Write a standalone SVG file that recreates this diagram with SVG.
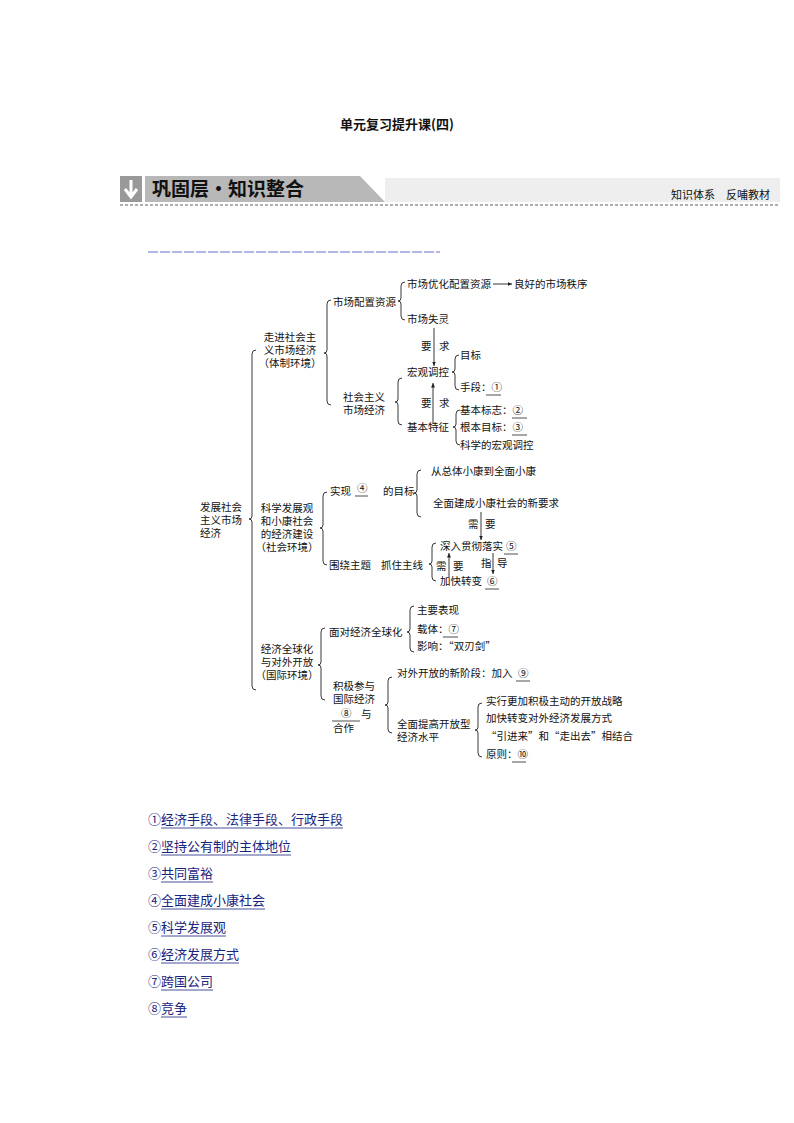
<svg xmlns="http://www.w3.org/2000/svg" width="794" height="1123" viewBox="0 0 794 1123">
<style>
text{font-family:"Noto Sans CJK SC","Liberation Serif",serif;font-size:10.5px;fill:#111}
.b{fill:none;stroke:#222;stroke-width:0.9}
.ln{stroke:#222;stroke-width:0.9;fill:none}
.u{stroke:#222;stroke-width:0.8}
.fn{font-size:13px;fill:#1a237e}
.ful{stroke:#1a237e;stroke-width:0.8}
</style>
<defs><marker id="ah" markerWidth="6" markerHeight="6" refX="5" refY="3" orient="auto"><path d="M0,0.8 L5,3 L0,5.2z" fill="#222"/></marker></defs>
<rect width="794" height="1123" fill="#fff"/>
<text x="397" y="129" text-anchor="middle" style="font-size:13px;font-weight:bold">单元复习提升课(四)</text>
<g id="header">
<rect x="385" y="178" width="395" height="24" fill="#eee"/>
<rect x="120" y="176" width="22" height="26" fill="#999"/>
<path d="M131,180 V194 M125,189 L131,197 L137,189" stroke="#fff" stroke-width="3" fill="none"/>
<path d="M145,176 H360 L385,202 H145z" fill="#b8b8b8"/>
<text x="152" y="196" style="font-size:19px;font-weight:bold;fill:#111">巩固层・知识整合</text>
<text x="770" y="199" text-anchor="end" style="font-size:11px">知识体系　反哺教材</text>
<line x1="120" y1="205" x2="778" y2="205" stroke="#333" stroke-dasharray="3,2" stroke-width="0.8"/>
<line x1="148" y1="252" x2="440" y2="252" stroke="#9aa0e0" stroke-width="1.5" stroke-dasharray="10,2"/>
</g>
<g id="connectors">
<path class="b" d="M256,350 Q252,350 252,354 L252,516 Q252,519 249,519 Q252,519 252,522 L252,686 Q252,690 256,690"/>
<path class="b" d="M331,300 Q327,300 327,304 L327,350 Q327,353 324,353 Q327,353 327,356 L327,401 Q327,405 331,405"/>
<path class="b" d="M405,282 Q401,282 401,286 L401,298 Q401,301 398,301 Q401,301 401,304 L401,316 Q401,320 405,320"/>
<line class="ln" x1="493" y1="284" x2="512" y2="284" marker-end="url(#ah)"/>
<line class="ln" x1="434" y1="328" x2="434" y2="366" marker-end="url(#ah)"/>
<path class="b" d="M459,355 Q455,355 455,359 L455,369 Q455,372 452,372 Q455,372 455,375 L455,386 Q455,390 459,390"/>
<path class="b" d="M402,378 Q398,378 398,382 L398,399 Q398,402 395,402 Q398,402 398,405 L398,421 Q398,425 402,425"/>
<line class="ln" x1="433" y1="424" x2="433" y2="383" marker-end="url(#ah)"/>
<path class="b" d="M460,410 Q456,410 456,414 L456,424 Q456,427 453,427 Q456,427 456,430 L456,441 Q456,445 460,445"/>
<path class="b" d="M327,492 Q323,492 323,496 L323,525 Q323,528 320,528 Q323,528 323,531 L323,561 Q323,565 327,565"/>
<path class="b" d="M421,470 Q417,470 417,474 L417,490 Q417,493 414,493 Q417,493 417,496 L417,513 Q417,517 421,517"/>
<line class="ln" x1="481" y1="512" x2="481" y2="540" marker-end="url(#ah)"/>
<path class="b" d="M436,543 Q432,543 432,547 L432,561 Q432,564 429,564 Q432,564 432,567 L432,577 Q432,581 436,581"/>
<line class="ln" x1="449" y1="577" x2="449" y2="553" marker-end="url(#ah)"/>
<line class="ln" x1="493" y1="553" x2="493" y2="574" marker-end="url(#ah)"/>
<path class="b" d="M325,628 Q321,628 321,632 L321,662 Q321,665 318,665 Q321,665 321,668 L321,696 Q321,700 325,700"/>
<path class="b" d="M414,606 Q410,606 410,610 L410,629 Q410,632 407,632 Q410,632 410,635 L410,648 Q410,652 414,652"/>
<path class="b" d="M392,677 Q388,677 388,681 L388,702 Q388,705 385,705 Q388,705 388,708 L388,729 Q388,733 392,733"/>
<path class="b" d="M482,703 Q478,703 478,707 L478,727 Q478,730 475,730 Q478,730 478,733 L478,753 Q478,757 482,757"/>
</g>
<g id="root"><text x="200" y="511">发展社会</text><text x="200" y="524">主义市场</text><text x="200" y="537">经济</text></g>
<g id="n1"><text x="290" y="341" text-anchor="middle">走进社会主</text><text x="290" y="354" text-anchor="middle">义市场经济</text><text x="290" y="367" text-anchor="middle">（体制环境）</text></g>
<g id="n1a"><text x="333" y="306">市场配置资源</text></g>
<g id="n1a1"><text x="407" y="288">市场优化配置资源</text><text x="514" y="288">良好的市场秩序</text></g>
<g id="n1a2"><text x="407" y="323">市场失灵</text><text x="421" y="350">要</text><text x="439" y="350">求</text></g>
<g id="n1b"><text x="364" y="401" text-anchor="middle">社会主义</text><text x="364" y="414" text-anchor="middle">市场经济</text></g>
<g id="n1b1"><text x="407" y="376">宏观调控</text><text x="460" y="359">目标</text><text x="460" y="391">手段：①</text><line class="u" x1="486" y1="395" x2="501" y2="395"/></g>
<g id="n1b2"><text x="421" y="407">要</text><text x="439" y="407">求</text><text x="407" y="431">基本特征</text>
<text x="460" y="414">基本标志：②</text><line class="u" x1="512" y1="418" x2="527" y2="418"/>
<text x="460" y="431">根本目标：③</text><line class="u" x1="512" y1="435" x2="527" y2="435"/>
<text x="460" y="449">科学的宏观调控</text></g>
<g id="n2"><text x="287" y="512" text-anchor="middle">科学发展观</text><text x="287" y="525" text-anchor="middle">和小康社会</text><text x="287" y="538" text-anchor="middle">的经济建设</text><text x="287" y="551" text-anchor="middle">（社会环境）</text></g>
<g id="n2a"><text x="330" y="495">实现</text><text x="357" y="492">④</text><line class="u" x1="355" y1="496" x2="368" y2="496"/><text x="383" y="495">的目标</text>
<text x="431" y="475">从总体小康到全面小康</text><text x="433" y="507">全面建成小康社会的新要求</text>
<text x="468" y="528">需</text><text x="485" y="528">要</text></g>
<g id="n2b"><text x="329" y="569">围绕主题</text><text x="381" y="569">抓住主线</text>
<text x="440" y="550">深入贯彻落实</text><text x="506" y="550">⑤</text><line class="u" x1="504" y1="554" x2="518" y2="554"/>
<text x="440" y="585">加快转变</text><text x="487" y="585">⑥</text><line class="u" x1="485" y1="589" x2="499" y2="589"/>
<text x="436" y="570">需</text><text x="453" y="570">要</text><text x="481" y="567">指</text><text x="497" y="567">导</text></g>
<g id="n3"><text x="287" y="653" text-anchor="middle">经济全球化</text><text x="287" y="666" text-anchor="middle">与对外开放</text><text x="287" y="679" text-anchor="middle">（国际环境）</text></g>
<g id="n3a"><text x="329" y="636">面对经济全球化</text><text x="417" y="614">主要表现</text><text x="417" y="633">载体：⑦</text><line class="u" x1="443" y1="637" x2="458" y2="637"/><text x="417" y="650">影响：“双刃剑”</text></g>
<g id="n3b"><text x="333" y="690">积极参与</text><text x="333" y="703">国际经济</text><text x="341" y="717">⑧</text><text x="361" y="718">与</text><line class="u" x1="332" y1="721" x2="360" y2="721"/><text x="333" y="732">合作</text>
<text x="397" y="677">对外开放的新阶段：加入</text><text x="518" y="677">⑨</text><line class="u" x1="516" y1="681" x2="530" y2="681"/>
<text x="397" y="728">全面提高开放型</text><text x="397" y="741">经济水平</text>
<text x="486" y="705">实行更加积极主动的开放战略</text><text x="486" y="722">加快转变对外经济发展方式</text><text x="486" y="740">“引进来”和“走出去”相结合</text><text x="486" y="758">原则：⑩</text><line class="u" x1="512" y1="762" x2="526" y2="762"/></g>
<g id="footnotes">
<text class="fn" x="148" y="824">①经济手段、法律手段、行政手段</text><line class="ful" x1="161" y1="828" x2="343" y2="828"/>
<text class="fn" x="148" y="851">②坚持公有制的主体地位</text><line class="ful" x1="161" y1="855" x2="291" y2="855"/>
<text class="fn" x="148" y="878">③共同富裕</text><line class="ful" x1="161" y1="882" x2="213" y2="882"/>
<text class="fn" x="148" y="905">④全面建成小康社会</text><line class="ful" x1="161" y1="909" x2="265" y2="909"/>
<text class="fn" x="148" y="932">⑤科学发展观</text><line class="ful" x1="161" y1="936" x2="226" y2="936"/>
<text class="fn" x="148" y="959">⑥经济发展方式</text><line class="ful" x1="161" y1="963" x2="239" y2="963"/>
<text class="fn" x="148" y="986">⑦跨国公司</text><line class="ful" x1="161" y1="990" x2="213" y2="990"/>
<text class="fn" x="148" y="1013">⑧竞争</text><line class="ful" x1="161" y1="1017" x2="187" y2="1017"/>
</g>
</svg>
